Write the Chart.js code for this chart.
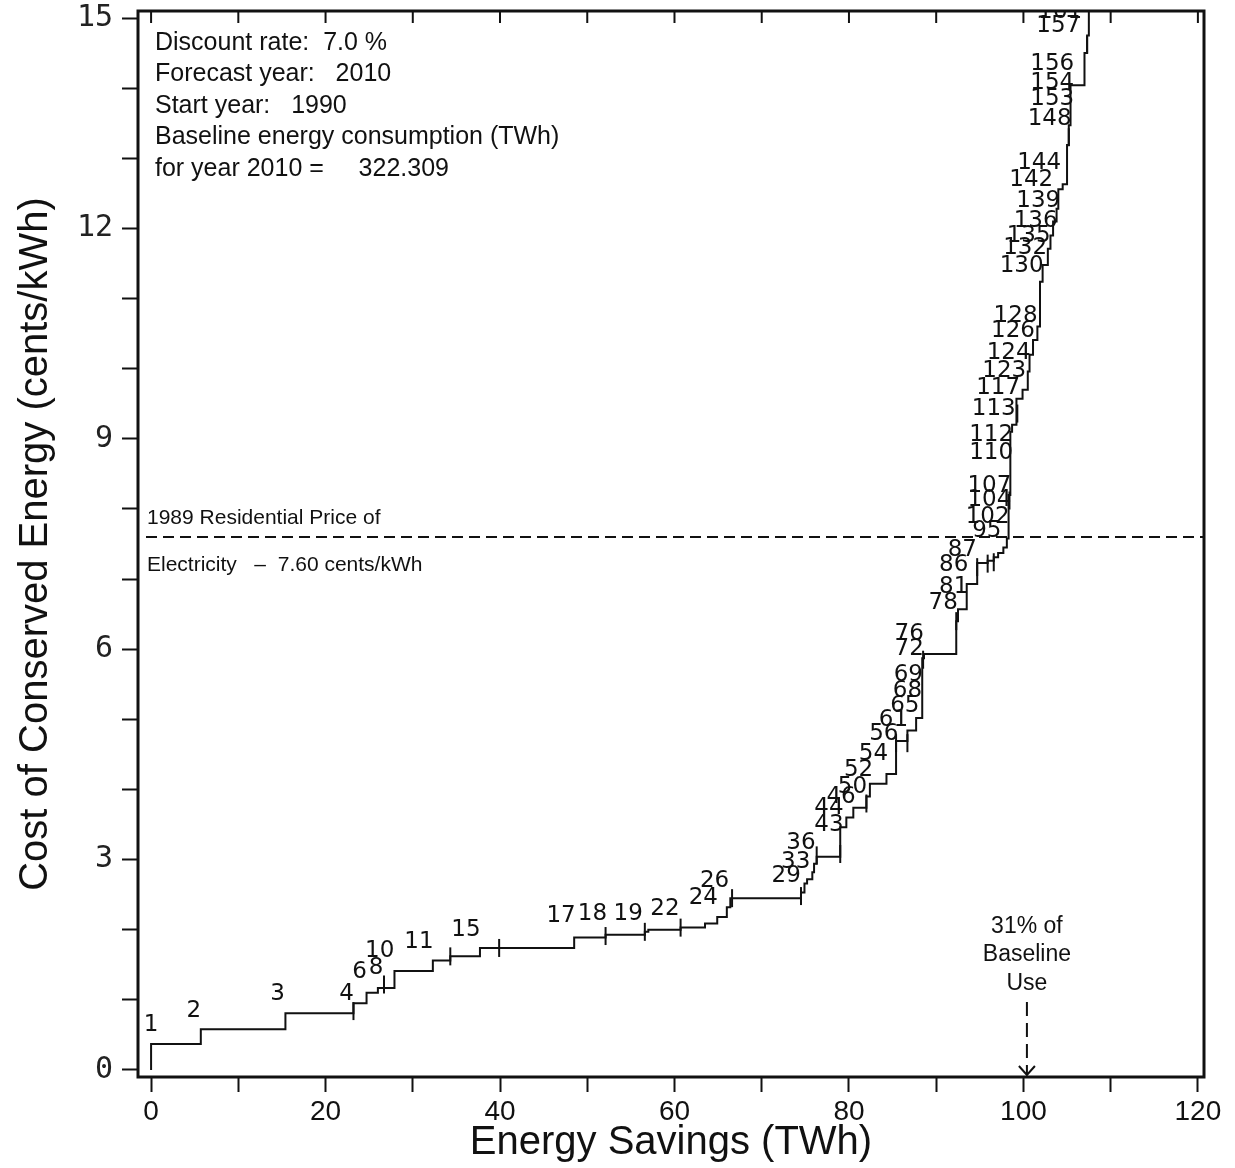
<!DOCTYPE html>
<html>
<head>
<meta charset="utf-8">
<script src="https://cdn.jsdelivr.net/npm/chart.js@4.4.0/dist/chart.umd.min.js"></script>
<style>
  html, body { margin: 0; background: #fff; }
  #wrap { width: 1235px; height: 1168px; }
</style>
</head>
<body>
<div id="wrap"><canvas id="curve"></canvas></div>
<script>
// Supply curve steps: x where each cost level starts (TWh), cost (cents/kWh)
const stepStart = [0, 0, 5.7, 15.4, 23.2, 24.7, 26.0, 27.9, 32.3, 34.3, 37.7, 48.5, 52.1, 56.6, 57.0,
  60.7, 63.5, 64.9, 66.0, 66.4, 74.5, 74.9, 75.2, 75.8, 76.0, 76.3, 79.0, 79.7, 80.5, 82.0, 82.4,
  84.3, 85.4, 86.7, 87.7, 88.4, 88.6, 92.3, 92.5, 93.5, 94.7, 95.9, 96.6, 97.1, 97.7, 98.1, 98.3,
  98.5, 98.7, 99.2, 99.9, 100.5, 100.7, 101.1, 101.6, 101.9, 102.2, 102.8, 103.1, 103.4, 103.8,
  104.0, 104.5, 105.0, 105.2, 105.4, 107.0, 107.3, 107.5];
const stepCost = [0, 0.37, 0.58, 0.81, 0.95, 1.10, 1.17, 1.41, 1.56, 1.62, 1.74, 1.89, 1.93, 1.97, 2.00,
  2.03, 2.09, 2.18, 2.32, 2.45, 2.53, 2.66, 2.72, 2.82, 2.94, 3.04, 3.46, 3.60, 3.74, 3.90, 4.08,
  4.22, 4.69, 4.84, 5.02, 5.87, 5.93, 6.40, 6.57, 6.93, 7.23, 7.26, 7.31, 7.37, 7.45, 7.58, 8.20,
  9.10, 9.20, 9.57, 9.70, 9.96, 10.20, 10.41, 10.60, 11.24, 11.48, 11.71, 11.90, 12.10, 12.28,
  12.56, 12.63, 13.19, 13.47, 14.04, 14.50, 14.75, 15.20];

// short vertical marks drawn across the curve
const markX = [23.2, 26.7, 34.3, 39.9, 52.1, 56.6, 60.7, 66.6, 74.5, 76.3, 79.0, 82.0, 85.4, 86.7,
  88.5, 92.3, 94.7, 95.9, 96.6, 98.4, 99.3, 105.2, 107.3];
const markY = [0.84, 1.22, 1.62, 1.74, 1.91, 1.97, 2.03, 2.45, 2.48, 3.06, 3.08, 3.80, 4.66, 4.66,
  5.85, 6.40, 7.17, 7.22, 7.24, 8.12, 9.36, 13.3, 14.62];

// measure numbers and where they sit (data units)
const measureIds = ['1', '2', '3', '4', '6', '8', '10', '11', '15', '17', '18', '19', '22', '24', '26',
  '29', '33', '36', '43', '44', '46', '50', '52', '54', '56', '61', '65', '68', '69', '72', '76',
  '78', '81', '86', '87', '95', '102', '104', '107', '110', '112', '113', '117', '123', '124',
  '126', '128', '130', '132', '135', '136', '139', '142', '144', '148', '153', '154', '156',
  '157', '161'];
const measureX = [0.0, 4.9, 14.5, 22.4, 23.9, 25.8, 26.2, 30.7, 36.1, 47.0, 50.6, 54.7, 58.9, 63.3,
  64.6, 72.8, 73.9, 74.5, 77.7, 77.7, 79.1, 80.4, 81.1, 82.8, 84.0, 85.1, 86.4, 86.7, 86.8, 86.9,
  86.9, 90.8, 92.0, 92.0, 93.0, 95.8, 95.9, 96.1, 96.1, 96.3, 96.3, 96.6, 97.1, 97.8, 98.3,
  98.8, 99.1, 99.8, 100.2, 100.6, 101.4, 101.7, 100.9, 101.8, 103.0, 103.3, 103.3, 103.3,
  104.0, 104.2];
const measureY = [0.64, 0.84, 1.08, 1.08, 1.39, 1.45, 1.69, 1.82, 1.99, 2.19, 2.22, 2.22, 2.30, 2.45,
  2.69, 2.77, 2.97, 3.23, 3.49, 3.73, 3.89, 4.04, 4.28, 4.50, 4.79, 4.99, 5.19, 5.40, 5.63, 6.00,
  6.22, 6.66, 6.89, 7.20, 7.41, 7.68, 7.89, 8.12, 8.33, 8.79, 9.06, 9.42, 9.72, 9.97, 10.23,
  10.53, 10.75, 11.47, 11.72, 11.89, 12.10, 12.39, 12.69, 12.93, 13.56, 13.84, 14.08, 14.35,
  14.88, 15.09];

const xTickValues = [0, 10, 20, 30, 40, 50, 60, 70, 80, 90, 100, 110, 120];
const yTickValues = [0, 1, 2, 3, 4, 5, 6, 7, 8, 9, 10, 11, 12, 13, 14, 15];

const priceLine = 7.60;      // 1989 residential price
const baselineMark = 100.4;  // 31% of baseline use (TWh)

const infoLines = [
  'Discount rate:  7.0 %',
  'Forecast year:   2010',
  'Start year:   1990',
  'Baseline energy consumption (TWh)',
  'for year 2010 =     322.309'
];

const ink = '#111';

const annotations = {
  id: 'annotations',
  afterDatasetsDraw(chart) {
    const { ctx, chartArea: a, scales: { x, y } } = chart;
    ctx.save();

    // frame
    ctx.strokeStyle = ink;
    ctx.lineWidth = 3;
    ctx.strokeRect(a.left, a.top, a.right - a.left, a.bottom - a.top);

    // inward ticks on the top edge
    ctx.lineWidth = 2;
    xTickValues.forEach(v => {
      const px = x.getPixelForValue(v);
      ctx.beginPath();
      ctx.moveTo(px, a.top);
      ctx.lineTo(px, a.top + 12);
      ctx.stroke();
    });

    // price line
    const py = y.getPixelForValue(priceLine);
    ctx.setLineDash([11, 6]);
    ctx.beginPath();
    ctx.moveTo(a.left + 8, py);
    ctx.lineTo(a.right, py);
    ctx.stroke();

    // baseline arrow
    const bx = x.getPixelForValue(baselineMark);
    ctx.setLineDash([14, 7]);
    ctx.beginPath();
    ctx.moveTo(bx, y.getPixelForValue(0.97));
    ctx.lineTo(bx, a.bottom - 2);
    ctx.stroke();
    ctx.setLineDash([]);
    ctx.beginPath();
    ctx.moveTo(bx - 8, a.bottom - 11);
    ctx.lineTo(bx, a.bottom - 2);
    ctx.lineTo(bx + 8, a.bottom - 11);
    ctx.stroke();

    ctx.fillStyle = ink;
    ctx.textBaseline = 'middle';

    // info block
    ctx.font = '25px "Liberation Sans", Arial, sans-serif';
    ctx.textAlign = 'left';
    infoLines.forEach((t, i) => ctx.fillText(t, a.left + 17, a.top + 32 + i * 31.5));

    // price text
    ctx.font = '21px "Liberation Sans", Arial, sans-serif';
    ctx.fillText('1989 Residential Price of', a.left + 9, py - 19);
    ctx.fillText('Electricity   \u2013  7.60 cents/kWh', a.left + 9, py + 28);

    // baseline text
    ctx.font = '23px "Liberation Sans", Arial, sans-serif';
    ctx.textAlign = 'center';
    ['31% of', 'Baseline', 'Use'].forEach((t, i) => ctx.fillText(t, bx, y.getPixelForValue(2.05) + i * 28.5));

    // measure numbers
    ctx.beginPath();
    ctx.rect(a.left, a.top, a.right - a.left, a.bottom - a.top);
    ctx.clip();
    ctx.font = '23px "DejaVu Sans", sans-serif';
    measureIds.forEach((t, i) => {
      ctx.fillText(t, x.getPixelForValue(measureX[i]), y.getPixelForValue(measureY[i]));
    });
    ctx.restore();
  }
};

const stepPoints = stepStart.map((v, i) => ({ x: v, y: stepCost[i] }));
const markPoints = markX.map((v, i) => ({ x: v, y: markY[i] }));

new Chart(document.getElementById('curve'), {
  type: 'scatter',
  data: {
    datasets: [
      {
        data: stepPoints,
        showLine: true,
        stepped: 'before',
        borderColor: ink,
        borderWidth: 2,
        pointRadius: 0
      },
      {
        data: markPoints,
        showLine: false,
        pointStyle: 'line',
        rotation: 90,
        pointRadius: 9,
        borderColor: ink,
        borderWidth: 2
      }
    ]
  },
  options: {
    responsive: true,
    maintainAspectRatio: false,
    animation: false,
    devicePixelRatio: 1,
    layout: { padding: { top: 8, right: 31, left: 0, bottom: 0 } },
    plugins: { legend: { display: false }, tooltip: { enabled: false } },
    scales: {
      x: {
        type: 'linear',
        min: -1.5,
        max: 120.7,
        afterBuildTicks: s => { s.ticks = xTickValues.map(v => ({ value: v })); },
        afterFit: s => { s.height = 91; s.paddingLeft = 0; s.paddingRight = 0; },
        border: { display: false },
        grid: { drawOnChartArea: false, drawTicks: true, tickLength: 15, tickWidth: 2, tickColor: ink },
        ticks: {
          color: ink,
          padding: 3,
          maxRotation: 0,
          autoSkip: false,
          font: { family: '"Liberation Sans Narrow", "Liberation Sans", sans-serif', size: 28 },
          callback: v => (v % 20 === 0 ? String(v) : '')
        },
        title: {
          display: true,
          text: 'Energy Savings (TWh)',
          color: ink,
          padding: { top: 0, bottom: 1 },
          font: { family: '"Liberation Sans", Arial, sans-serif', size: 40 }
        }
      },
      y: {
        type: 'linear',
        min: -0.1,
        max: 15.1,
        afterBuildTicks: s => { s.ticks = yTickValues.map(v => ({ value: v })); },
        afterFit: s => { s.width = 138; s.paddingTop = 0; s.paddingBottom = 0; },
        border: { display: false },
        grid: { drawOnChartArea: false, drawTicks: true, tickLength: 16, tickWidth: 2, tickColor: ink },
        ticks: {
          color: '#222',
          padding: 9,
          autoSkip: false,
          font: { family: '"DejaVu Sans Mono", monospace', size: 30 },
          callback: v => (v % 3 === 0 ? String(v) : '')
        },
        title: {
          display: true,
          text: 'Cost of Conserved Energy (cents/kWh)',
          color: ink,
          padding: { top: 12, bottom: 0 },
          font: { family: '"Liberation Sans", Arial, sans-serif', size: 40 }
        }
      }
    }
  },
  plugins: [annotations]
});
</script>
</body>
</html>
